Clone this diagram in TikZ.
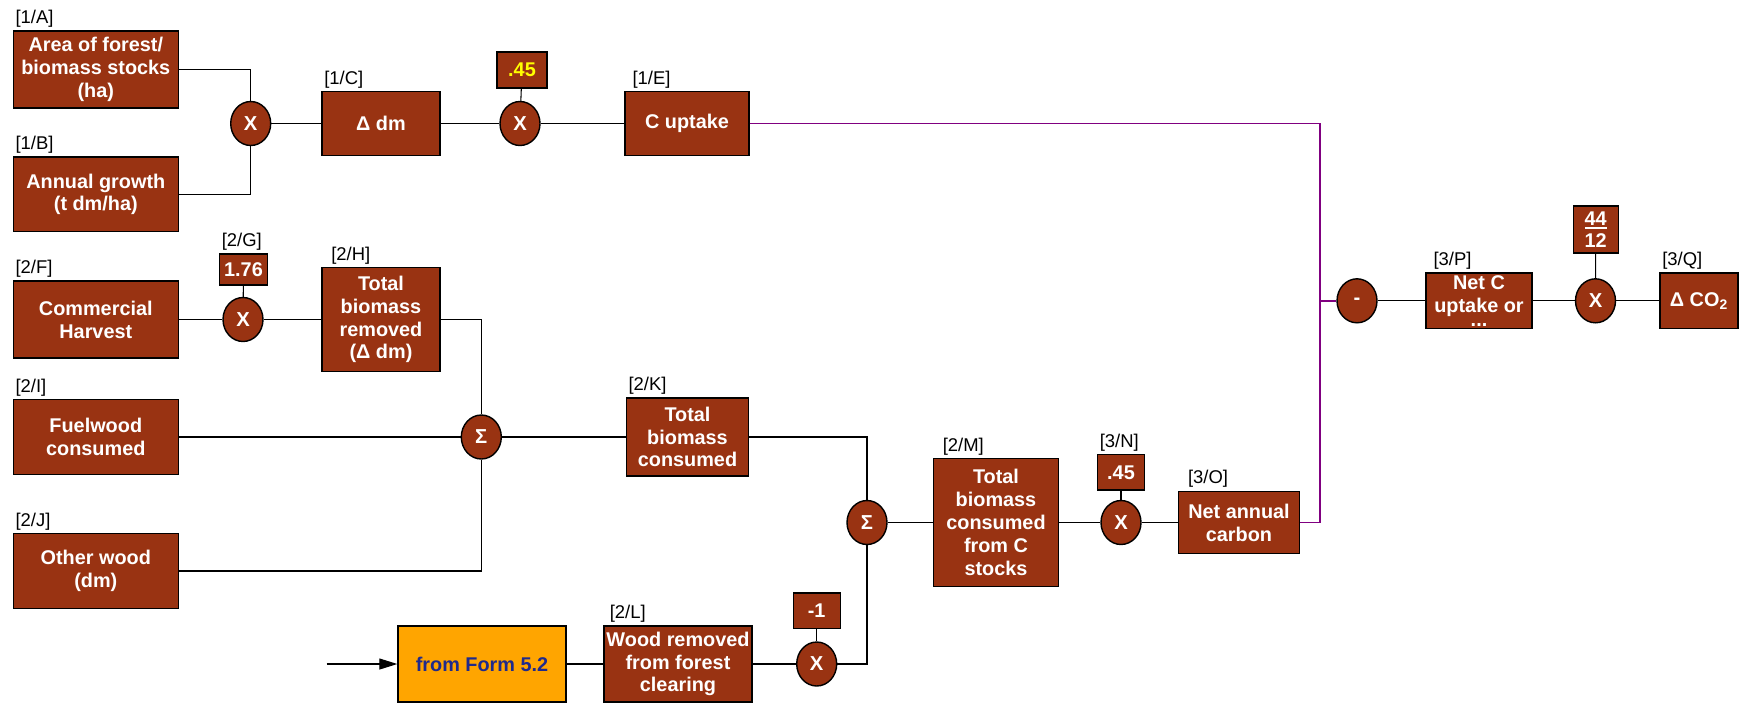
\documentclass[tikz,border=0pt]{standalone}
\usepackage{fontspec}
\setmainfont{Liberation Sans}
\usepackage{tikz}
\usetikzlibrary{positioning,arrows.meta,shapes.geometric}
\definecolor{brn}{HTML}{993312}
\definecolor{orng}{HTML}{FFA500}
\definecolor{navy}{HTML}{1F2A8C}
\definecolor{vio}{HTML}{800080}
\definecolor{ylw}{HTML}{FFFF00}

\begin{document}
\begin{tikzpicture}[x=0.02cm, y=-0.02cm,
  box/.style={draw, fill=brn, text=white, line width=0.8pt, align=center, inner sep=1pt, font=\fontsize{11.3}{13}\selectfont\bfseries},
  kbox/.style={box, minimum width=0.94cm, minimum height=0.71cm},
  op/.style={ellipse, draw, fill=brn, text=white, line width=0.8pt, minimum width=0.8cm, minimum height=0.88cm, inner sep=0pt, font=\fontsize{11.5}{13}\selectfont\bfseries},
  tag/.style={anchor=south west, inner sep=1.5pt, font=\fontsize{10.5}{12}\selectfont},
  wire/.style={line width=0.6pt},
  cline/.style={draw=vio, line width=1pt}]
\useasboundingbox (0,0) rectangle (1747,704);
% row 1: C uptake
\node[box, minimum width=3.3cm, minimum height=1.54cm] (a) at (95.8,69.6) {Area of forest/\\biomass stocks\\(ha)};
\node[tag] (ta) at (a.north west) {[1/A]};
\node[box, minimum width=3.3cm, minimum height=1.49cm] (b) at (95.8,194.4) {Annual growth\\(t dm/ha)};
\node[tag] (tb) at (b.north west) {[1/B]};
\node[op] (x1) at (250.7,123.5) {X};
\node[box, minimum width=2.36cm, minimum height=1.27cm] (c) at (381,123.5) {Δ dm};
\node[tag] (tc) at (c.north west) {[1/C]};
\node[kbox, minimum width=1cm, minimum height=0.72cm, text=ylw] (k1) at (522,70) {.45};
\node[op] (x2) at (520,123.5) {X};
\node[box, minimum width=2.48cm, minimum height=1.27cm] (e) at (687,123.5) {C uptake};
\node[tag, xshift=3pt] (te) at (e.north west) {[1/E]};
% rows 2: biomass consumed
\node[box, minimum width=3.3cm, minimum height=1.54cm] (f) at (95.8,319.5) {Commercial\\Harvest};
\node[tag] (tf) at (f.north west) {[2/F]};
\node[kbox, minimum width=0.96cm, minimum height=0.62cm] (k2) at (243.5,269.6) {1.76};
\node[tag] (tg) at (k2.north west) {[2/G]};
\node[op] (x3) at (243,319.5) {X};
\node[box, minimum width=2.36cm, minimum height=2.07cm] (h) at (381,319.5) {Total\\biomass\\removed\\(Δ dm)};
\node[tag, xshift=4pt] (th) at (h.north west) {[2/H]};
\node[box, minimum width=3.3cm, minimum height=1.49cm] (i) at (95.8,437) {Fuelwood\\consumed};
\node[tag] (ti) at (i.north west) {[2/I]};
\node[op] (s1) at (481.3,437) {Σ};
\node[box, minimum width=2.45cm, minimum height=1.56cm] (k) at (687.5,437) {Total\\biomass\\consumed};
\node[tag] (tk) at (k.north west) {[2/K]};
\node[box, minimum width=3.3cm, minimum height=1.49cm] (j) at (95.8,571) {Other wood\\(dm)};
\node[tag] (tj) at (j.north west) {[2/J]};
\node[op] (s2) at (867,522.5) {Σ};
\node[box, minimum width=2.5cm, minimum height=2.56cm] (m) at (996,522.5) {Total\\biomass\\consumed\\from C\\stocks};
\node[tag, xshift=4pt] (tm) at (m.north west) {[2/M]};
\node[kbox] (k3) at (1121,472.4) {.45};
\node[tag] (tn) at (k3.north west) {[3/N]};
\node[op] (x4) at (1121,522.5) {X};
\node[box, minimum width=2.41cm, minimum height=1.25cm] (o) at (1239,522.5) {Net annual\\carbon};
\node[tag, xshift=4pt] (to) at (o.north west) {[3/O]};
% clearing
\coordinate (src) at (326.5,664);
\node[box, fill=orng, text=navy, minimum width=3.36cm, minimum height=1.52cm] (form) at (482,664) {from Form 5.2};
\node[box, minimum width=2.96cm, minimum height=1.52cm] (l) at (678,664) {Wood removed\\from forest\\clearing};
\node[tag, xshift=2pt] (tl) at (l.north west) {[2/L]};
\node[kbox] (k5) at (816.7,610.6) {-1};
\node[op] (x5) at (816.7,664) {X};
% net result
\coordinate (jn) at (1320,300.8);
\node[op] (mn) at (1357,300.8) {-};
\node[box, minimum width=2.12cm, minimum height=1.11cm] (p) at (1479,300.8) {Net C\\uptake or\\[-5pt]...};
\node[tag, xshift=3pt] (tp) at (p.north west) {[3/P]};
\node[kbox, minimum width=0.9cm, minimum height=0.94cm] (k4) at (1595.7,229.5) {44\\[-11pt]\rule{1.1em}{1.3pt}\\[-2.5pt]12};
\node[op] (x6) at (1595.5,300.8) {X};
\node[box, minimum width=1.56cm, minimum height=1.11cm] (q) at (1699,300.8) {Δ CO\textsubscript{2}};
\node[tag] (tq) at (q.north west) {[3/Q]};
% connectors
\draw[wire] (a.east) -| (x1.north);
\draw[wire] (b.east) -| (x1.south);
\draw[wire] (h.east) -| (s1.north);
\draw[wire] (j.east) -| (s1.south);
\draw[wire] (k.east) -| (s2.north);
\draw[wire] (x5.east) -| (s2.south);
\foreach \a/\b in {x1/c, c/x2, k1/x2, x2/e, f/x3, k2/x3, x3/h, i/s1, s1/k, s2/m, m/x4, k3/x4, x4/o, form/l, l/x5, k5/x5, mn/p, p/x6, k4/x6, x6/q}
  \draw[wire] (\a) -- (\b);
\draw[wire, -{Triangle[length=3.6mm,width=2.2mm]}] (src) -- (form.west);
\draw[cline] (e.east) -| (jn) |- (o.east);
\draw[cline] (jn) -- (mn);
\end{tikzpicture}
\end{document}
